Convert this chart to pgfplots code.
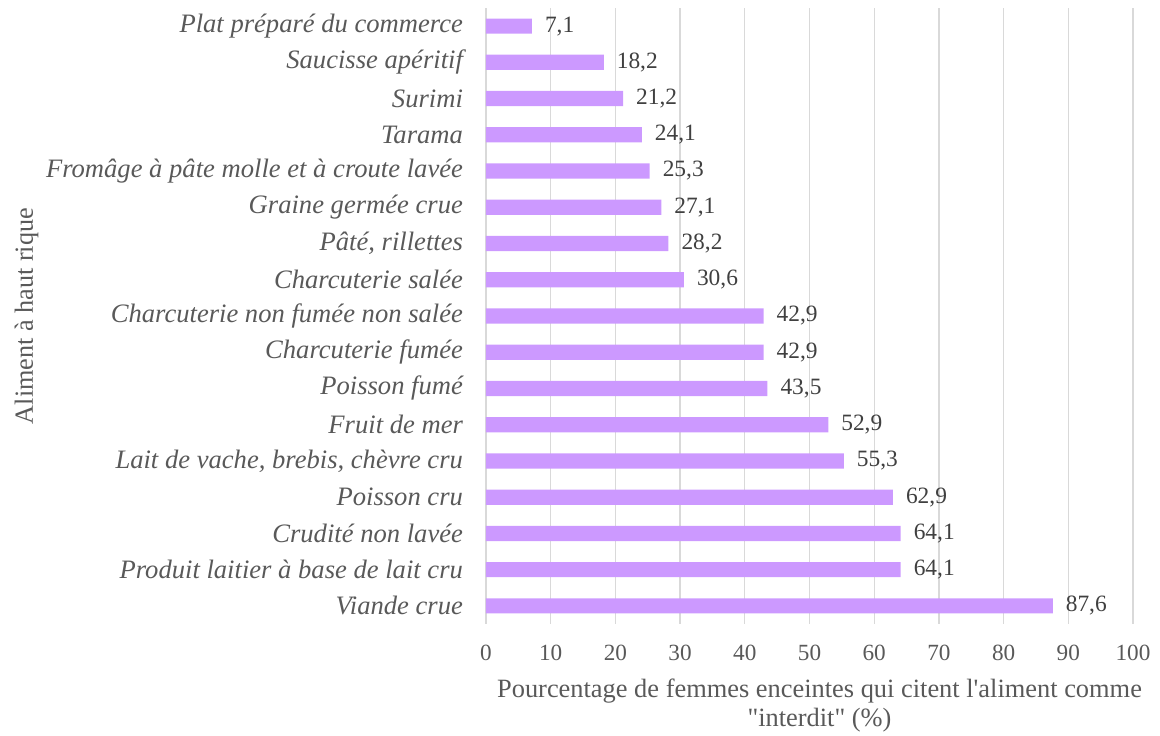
\documentclass[border=0pt]{standalone}
\usepackage{fontspec}
\setmainfont{Liberation Serif}[Ligatures=TeXOff]
\usepackage{pgfplots}
\pgfplotsset{compat=1.18}
\definecolor{barlilac}{HTML}{CC99FF}
\definecolor{gridgray}{HTML}{D9D9D9}
\definecolor{txtgray}{HTML}{595959}
\definecolor{valgray}{HTML}{404040}
\begin{document}
\begin{tikzpicture}
\begin{axis}[
 scale only axis, width=323.5pt, height=308pt,
 xbar, bar width=7.6pt,
 xmin=0, xmax=100, xtick={0,10,...,100},
 ymin=-0.5, ymax=16.5, ytick={0,...,16},
 yticklabels={Viande crue,Produit laitier à base de lait cru,Crudité non lavée,Poisson cru,{Lait de vache, brebis, chèvre cru},Fruit de mer,Poisson fumé,Charcuterie fumée,Charcuterie non fumée non salée,Charcuterie salée,{Pâté, rillettes\hspace{0.3em}},Graine germée crue\hspace{0.3em},Fromâge à pâte molle et à croute lavée,Tarama,Surimi\hspace{0.3em},Saucisse apéritif\hspace{0.3em},Plat préparé du commerce},
 axis line style={draw=none},
 major tick length=0pt,
 xmajorgrids, grid style={gridgray, line width=0.6pt},
 tick label style={font=\fontsize{11.6}{13}\selectfont, text=txtgray},
 yticklabel style={font=\fontsize{13.3}{15}\selectfont\itshape, xshift=-8pt},
 xticklabel style={yshift=-7pt},
 /pgf/number format/assume math mode=true,
 xlabel={Pourcentage de femmes enceintes qui citent l'aliment comme\\"interdit" (\%)},
 xlabel style={align=center, font=\fontsize{13.2}{14.5}\selectfont, text=txtgray, xshift=5pt, yshift=-2pt},
 ylabel={Aliment à haut rique},
 ylabel style={font=\fontsize{13.1}{15}\selectfont, text=txtgray, yshift=-3pt},
 nodes near coords,
 nodes near coords style={font=\fontsize{11.7}{13}\selectfont, text=valgray, anchor=west, xshift=3pt,
   /pgf/number format/.cd, fixed, fixed zerofill, precision=1, use comma, assume math mode=true},
]
\addplot[fill=barlilac, draw=none] coordinates {
(87.6,0) (64.1,1) (64.1,2) (62.9,3) (55.3,4) (52.9,5) (43.5,6) (42.9,7) (42.9,8)
(30.6,9) (28.2,10) (27.1,11) (25.3,12) (24.1,13) (21.2,14) (18.2,15) (7.1,16)};
\end{axis}
\pgfresetboundingbox
\path ([shift={(-243pt,4pt)}]current axis.north west) rectangle ([shift={(13.5pt,-56pt)}]current axis.south east);
\end{tikzpicture}
\end{document}
